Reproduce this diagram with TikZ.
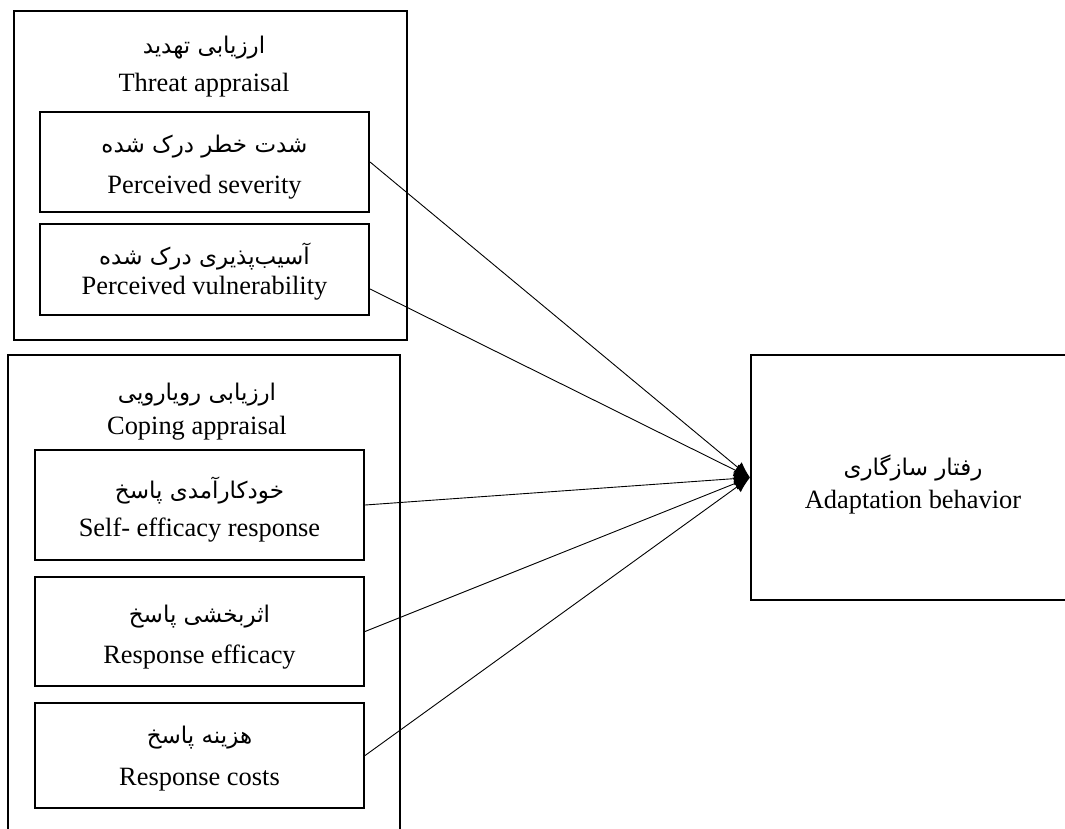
\documentclass[tikz,border=0pt]{standalone}
\usepackage{fontspec}
\setmainfont{Liberation Serif}
\newfontfamily\farsi[Script=Arabic]{DejaVu Sans}
\TeXXeTstate=1
\usetikzlibrary{arrows.meta}
\newcommand{\fa}[1]{\beginR #1\endR}

\begin{document}
\begin{tikzpicture}[x=1pt,y=-1pt,
  box/.style={draw,line width=2.1pt,minimum width=329pt,inner sep=0pt},
  group/.style={line width=1.8pt},
  fa/.style={inner sep=0pt,font=\farsi\fontsize{23}{28}\selectfont},
  en/.style={inner sep=0pt,font=\fontsize{26.4}{32}\selectfont},
  link/.style={line width=0.9pt,-{Latex[length=16pt,width=13pt]}}]
\path[use as bounding box,clip] (0,0) rectangle (1065,828);
% threat appraisal
\draw[group] (14,11) rectangle (407,340);
\node[fa] (thr-fa) at (204,48) {\fa{ارزیابی تهدید}};
\node[en] (thr-en) at (204,85) {Threat appraisal};
\node[box,minimum height=100pt] (sev) at (204.5,162) {};
\node[fa] (sev-fa) at (204.5,147) {\fa{شدت خطر درک شده}};
\node[en] (sev-en) at (204.5,187) {Perceived severity};
\node[box,minimum height=91pt] (vul) at (204.5,269.5) {};
\node[fa] (vul-fa) at (204.5,257) {\fa{آسیب^^^^200cپذیری درک شده}};
\node[en] (vul-en) at (204.5,288) {Perceived vulnerability};
% coping appraisal
\draw[group] (8,355) rectangle (400,860);
\node[fa] (cop-fa) at (197,395) {\fa{ارزیابی رویارویی}};
\node[en] (cop-en) at (197,428) {Coping appraisal};
\node[box,minimum height=110pt] (se) at (199.5,505) {};
\node[fa] (se-fa) at (199.5,490) {\fa{خودکارآمدی پاسخ}};
\node[en] (se-en) at (199.5,530) {Self- efficacy response};
\node[box,minimum height=109pt] (re) at (199.5,631.5) {};
\node[fa] (re-fa) at (199.5,617) {\fa{اثربخشی پاسخ}};
\node[en] (re-en) at (199.5,657) {Response efficacy};
\node[box,minimum height=105pt] (rc) at (199.5,755.5) {};
\node[fa] (rc-fa) at (199.5,738) {\fa{هزینه پاسخ}};
\node[en] (rc-en) at (199.5,780) {Response costs};
% outcome
\node[box,minimum width=324pt,minimum height=245pt] (ad) at (913,477.5) {};
\node[fa] (ad-fa) at (913,468) {\fa{رفتار سازگاری}};
\node[en] (ad-en) at (913,502) {Adaptation behavior};
\foreach \n in {sev,se,re,rc}
  \draw[link] (\n.east) -- (ad.west);
\draw[link] ([yshift=-19.5pt]vul.east) -- (ad.west);
\end{tikzpicture}
\end{document}
